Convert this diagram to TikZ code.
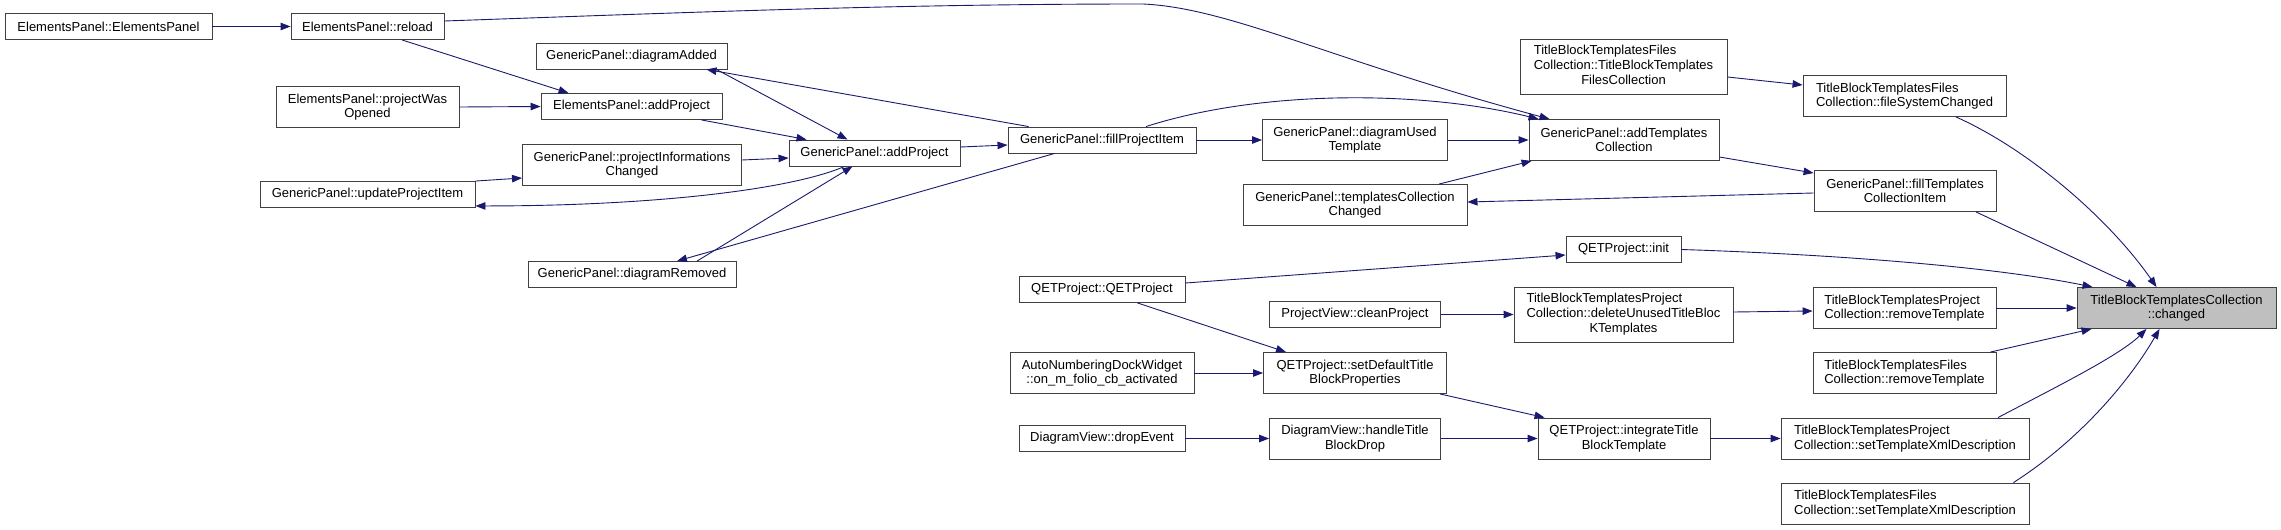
\documentclass[tikz,border=0pt]{standalone}
\usepackage{fontspec}
\setmainfont{Liberation Sans}
\usepackage{tikz}
\usetikzlibrary{arrows.meta}
\definecolor{linkc}{HTML}{191970}
\definecolor{boxc}{HTML}{404040}
\definecolor{focusc}{HTML}{BFBFBF}
\tikzset{
  fn/.style={draw=boxc, fill=white, line width=0.9pt, align=center, inner sep=0pt,
             font=\fontsize{13}{14.7}\selectfont, minimum height=26},
  fn2/.style={fn, minimum height=41},
  fn3/.style={fn, minimum height=55},
  self/.style={fn2, fill=focusc},
  arr/.style={-{Triangle[length=10pt,width=7.5pt]}, line width=0.9pt, draw=linkc},
}

\begin{document}
\begin{tikzpicture}[x=1pt,y=1pt]
  \useasboundingbox (0,0) rectangle (2281,-530);
  \node[fn, minimum width=207] (ctor) at (108.5,-26.5) {ElementsPanel::ElementsPanel};
  \node[fn, minimum width=153] (reload) at (367.5,-26.5) {ElementsPanel::reload};
  \node[fn2, minimum width=183] (opened) at (367.5,-107) {ElementsPanel::projectWas\\Opened};
  \node[fn, minimum width=215] (update) at (367.5,-194.5) {GenericPanel::updateProjectItem};
  \node[fn, minimum width=191] (added) at (631.5,-56) {GenericPanel::diagramAdded};
  \node[fn, minimum width=181] (epadd) at (631.5,-106.5) {ElementsPanel::addProject};
  \node[fn2, minimum width=219] (info) at (632,-165) {GenericPanel::projectInformations\\Changed};
  \node[fn, minimum width=171] (gpadd) at (874.5,-153) {GenericPanel::addProject};
  \node[fn, minimum width=208] (removed) at (632,-274.5) {GenericPanel::diagramRemoved};
  \node[fn, minimum width=188] (fillitem) at (1102,-140) {GenericPanel::fillProjectItem};
  \node[fn2, minimum width=185] (used) at (1355,-140) {GenericPanel::diagramUsed\\Template};
  \node[fn2, minimum width=224] (tchanged) at (1355,-205) {GenericPanel::templatesCollection\\Changed};
  \node[fn3, minimum width=207] (fctor) at (1623.5,-66.5)
    {\begin{tabular}{@{}l@{}}TitleBlockTemplatesFiles\\Collection::TitleBlockTemplates\\\multicolumn{1}{@{}c@{}}{FilesCollection}\end{tabular}};
  \node[fn2, minimum width=190] (addtc) at (1624,-140) {GenericPanel::addTemplates\\Collection};
  \node[fn2, minimum width=203, align=left] (fschanged) at (1904.5,-96) {TitleBlockTemplatesFiles\\Collection::fileSystemChanged};
  \node[fn2, minimum width=182] (filltc) at (1905,-191) {GenericPanel::fillTemplates\\CollectionItem};
  \node[fn, minimum width=115] (init) at (1623.5,-249.5) {QETProject::init};
  \node[fn, minimum width=166] (qctor) at (1102,-289.5) {QETProject::QETProject};
  \node[fn, minimum width=171] (clean) at (1355,-314.5) {ProjectView::cleanProject};
  \node[fn2, minimum width=184] (folio) at (1102,-373) {AutoNumberingDockWidget\\::on\_m\_folio\_cb\_activated};
  \node[fn2, minimum width=183] (setdef) at (1355,-373) {QETProject::setDefaultTitle\\BlockProperties};
  \node[fn, minimum width=166] (drop) at (1102,-438.5) {DiagramView::dropEvent};
  \node[fn2, minimum width=171] (handle) at (1355,-438.5) {DiagramView::handleTitle\\BlockDrop};
  \node[fn3, minimum width=219] (delunused) at (1623.5,-314.5)
    {\begin{tabular}{@{}l@{}}TitleBlockTemplatesProject\\Collection::deleteUnusedTitleBloc\\\multicolumn{1}{@{}c@{}}{KTemplates}\end{tabular}};
  \node[fn2, minimum width=172] (integrate) at (1624,-438.5) {QETProject::integrateTitle\\BlockTemplate};
  \node[fn2, minimum width=183, align=left] (premove) at (1904.5,-308) {TitleBlockTemplatesProject\\Collection::removeTemplate};
  \node[fn2, minimum width=183, align=left] (fremove) at (1904.5,-373) {TitleBlockTemplatesFiles\\Collection::removeTemplate};
  \node[fn2, minimum width=248, align=left] (pxml) at (1905,-438.5) {TitleBlockTemplatesProject\\Collection::setTemplateXmlDescription};
  \node[fn2, minimum width=248, align=left] (fxml) at (1905,-503.5) {TitleBlockTemplatesFiles\\Collection::setTemplateXmlDescription};
  \node[self, minimum width=199] (changed) at (2176.5,-308) {TitleBlockTemplatesCollection\\::changed};

  \foreach \a/\b in {ctor/reload, opened/epadd, fillitem/used, used/addtc, clean/delunused,
                     premove/changed, folio/setdef, drop/handle, handle/integrate, integrate/pxml}
    \draw[arr] (\a.east) -- (\b.west);

  \draw[arr] ([yshift=5.5]reload.east) .. controls (700,-12) and (900,-4) .. (1143,-4)
    .. controls (1230,-8) and (1330,-60) .. ([xshift=21]addtc.north west);
  \draw[arr] ([xshift=34.5]reload.south) -- ([xshift=28]epadd.north west);
  \draw[arr] ([xshift=70]epadd.south) -- ([xshift=18]gpadd.north west);
  \draw[arr] (update.north east) -- ([yshift=-13]info.west);
  \draw[arr] ([yshift=5]info.east) -- ([yshift=-5]gpadd.west);
  \draw[arr] ([xshift=-30]gpadd.south) .. controls (790,-190) and (650,-206) .. ([yshift=2]update.south east);
  \draw[arr] ([xshift=85]added.south) -- ([xshift=-27]gpadd.north);
  \draw[arr] ([xshift=21]fillitem.north west) -- ([xshift=75]added.south);
  \draw[arr] ([xshift=65]removed.north) -- ([xshift=-22]gpadd.south);
  \draw[arr] ([xshift=47]fillitem.south west) -- ([xshift=45]removed.north);
  \draw[arr] ([yshift=6]gpadd.east) -- ([yshift=-5]fillitem.west);
  \draw[arr] ([xshift=44]fillitem.north) .. controls (1260,-90) and (1420,-90) .. ([xshift=10]addtc.north west);
  \draw[arr] ([xshift=84]tchanged.north) -- ([xshift=3]addtc.south west);
  \draw[arr] ([yshift=-2]filltc.west) -- ([yshift=3]tchanged.east);
  \draw[arr] ([yshift=-17]addtc.east) -- ([yshift=18]filltc.west);
  \draw[arr] ([yshift=-10.5]fctor.east) -- ([yshift=11]fschanged.west);
  \draw[arr] ([xshift=51.5]fschanged.south) .. controls (2030,-150) and (2110,-220) .. ([xshift=-20]changed.north);
  \draw[arr] ([xshift=71]filltc.south) -- ([xshift=-40]changed.north);
  \draw[arr] (init.east) .. controls (1850,-255) and (2000,-268) .. ([xshift=16]changed.north west);
  \draw[arr] ([yshift=6.5]qctor.east) -- ([yshift=-5.5]init.west);
  \draw[arr] ([xshift=35.5]qctor.south) -- ([xshift=-69]setdef.north);
  \draw[arr] ([yshift=2.5]delunused.east) -- ([yshift=-3]premove.west);
  \draw[arr] ([xshift=-6]fremove.north east) -- ([xshift=15]changed.south west);
  \draw[arr] ([xshift=-7]setdef.south east) -- ([xshift=7]integrate.north west);
  \draw[arr] ([xshift=93]pxml.north) .. controls (2060,-385) and (2120,-355) .. ([xshift=-30]changed.south);
  \draw[arr] ([xshift=-16]fxml.north east) .. controls (2080,-440) and (2130,-380) .. ([xshift=-17]changed.south);
\end{tikzpicture}
\end{document}
